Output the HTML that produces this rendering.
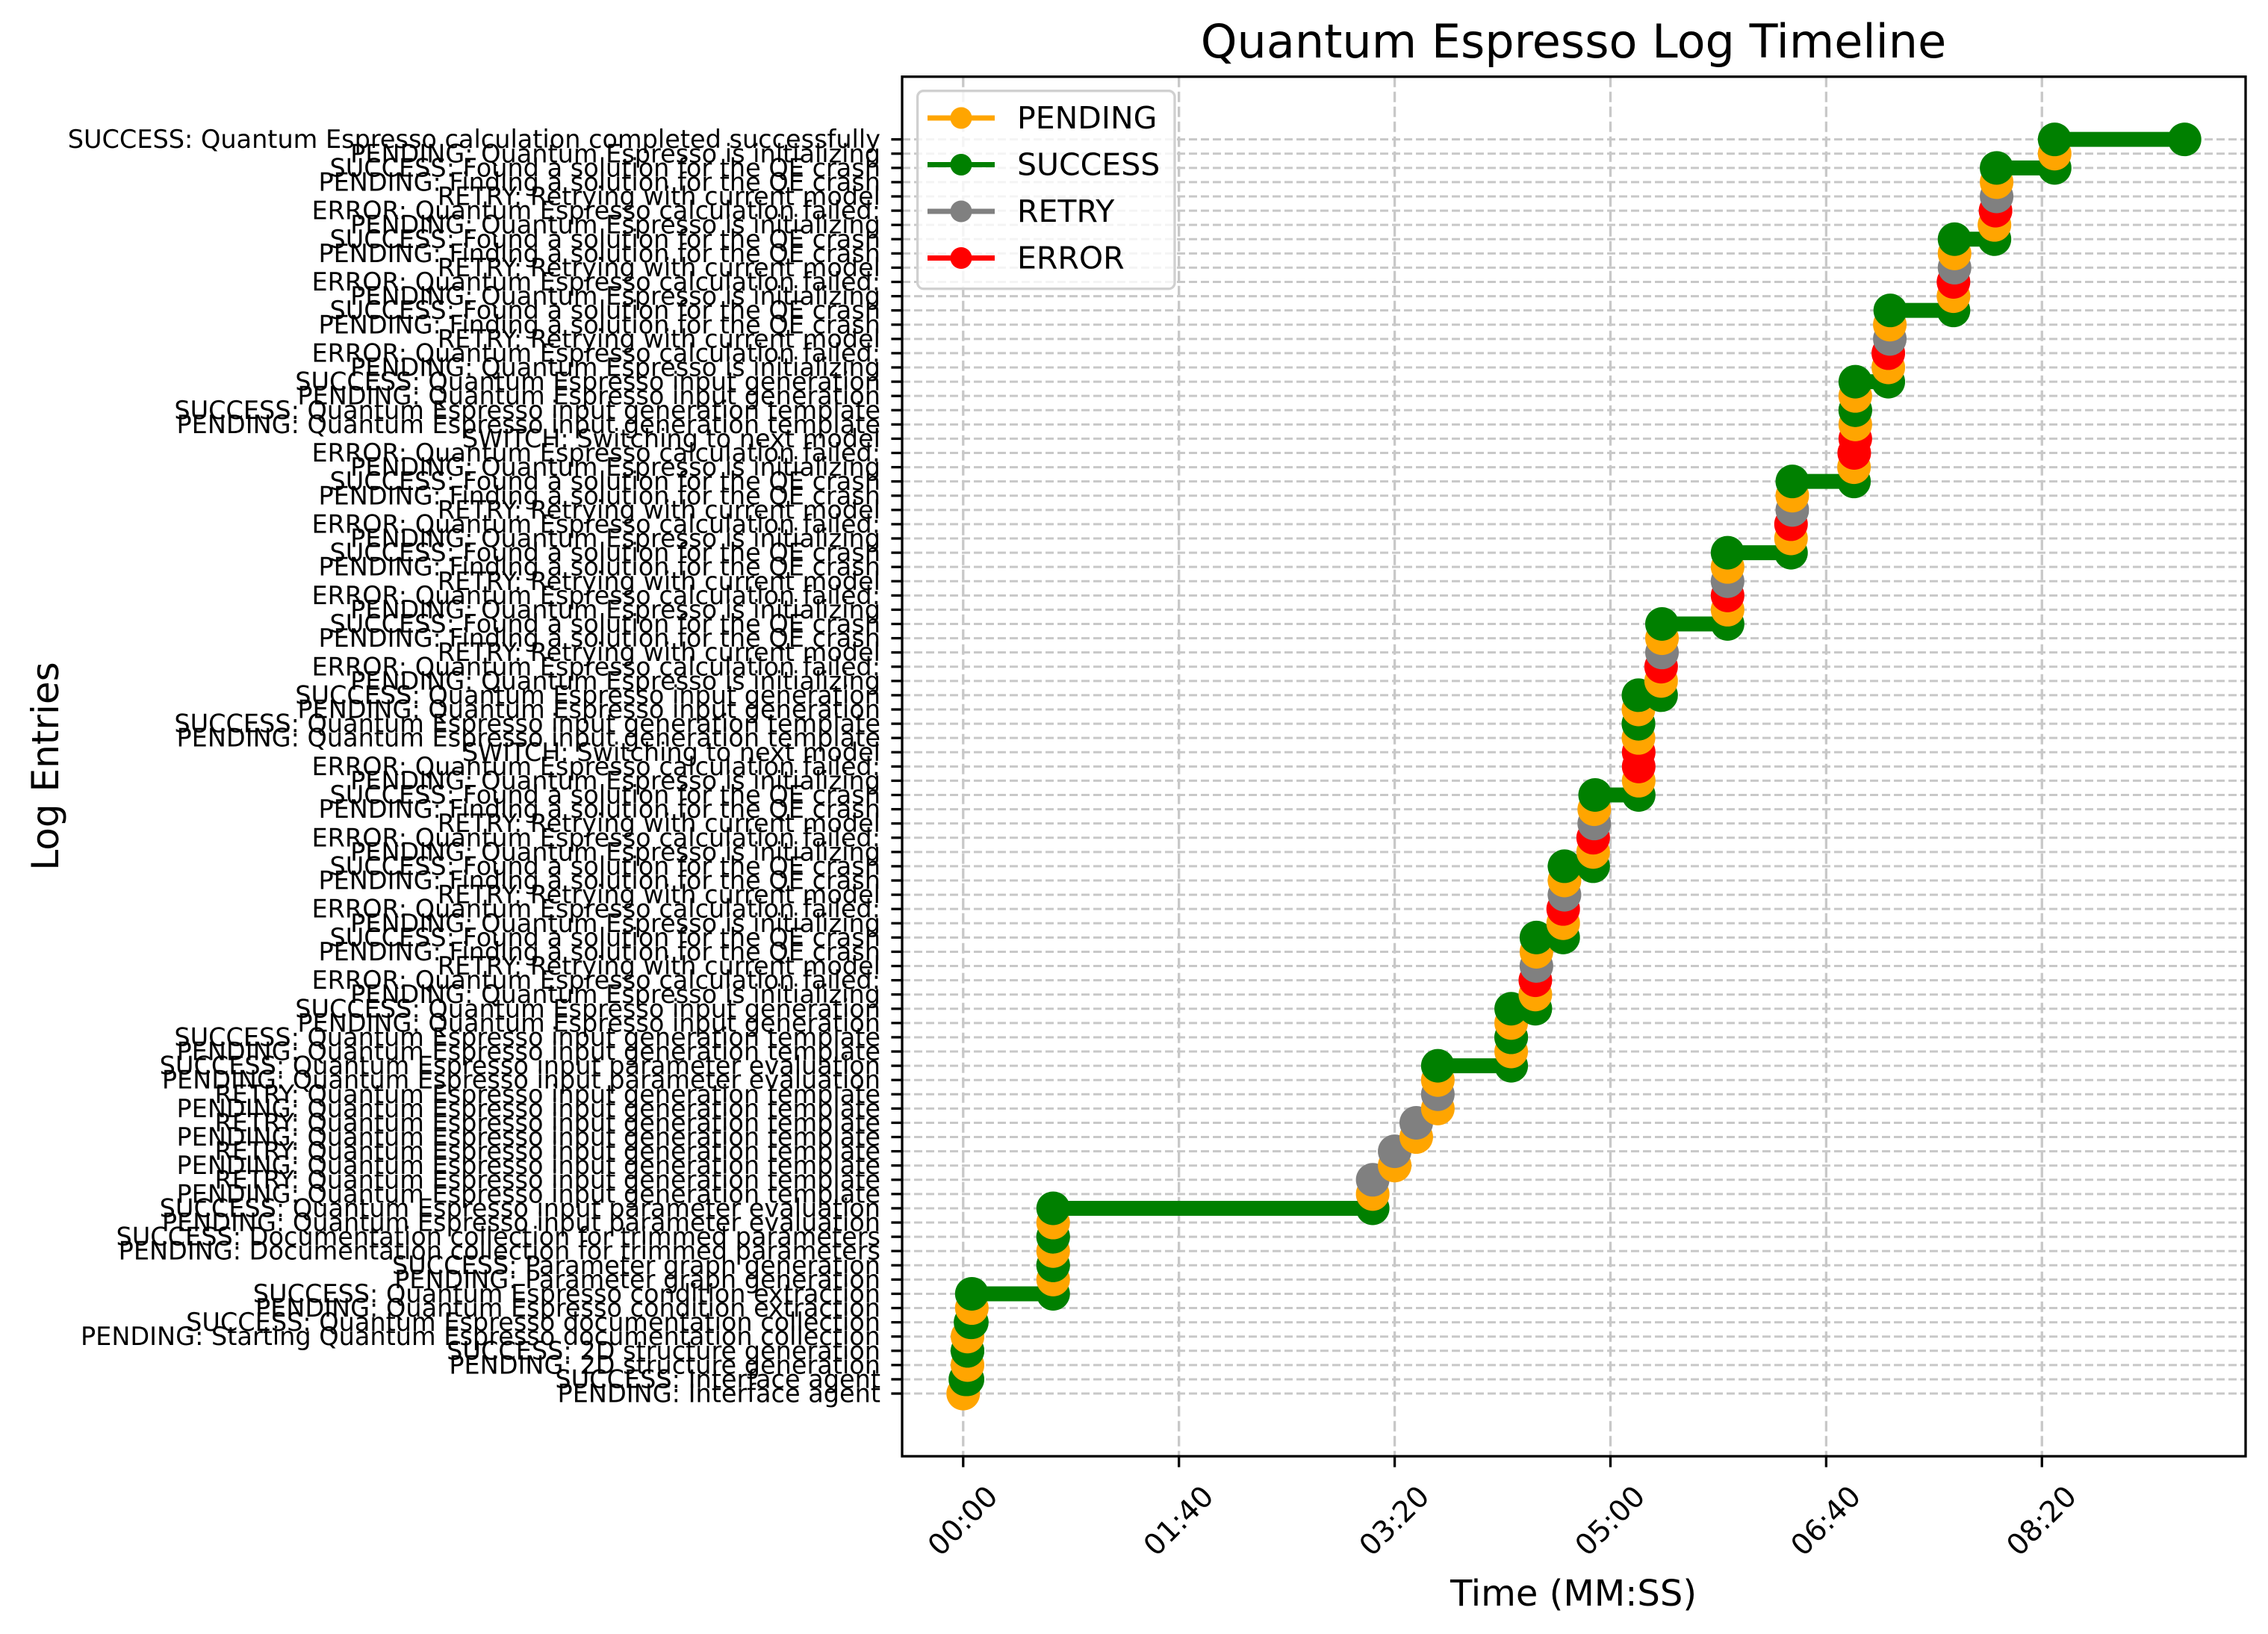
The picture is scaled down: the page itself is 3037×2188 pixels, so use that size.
<!DOCTYPE html>
<html><head><meta charset="utf-8"><title>Quantum Espresso Log Timeline</title>
<style>
html,body{margin:0;padding:0;background:#fff;}
svg{display:block;font-family:"DejaVu Sans","Liberation Sans",sans-serif;}
</style></head>
<body>
<svg id="chart" xmlns="http://www.w3.org/2000/svg" width="3037" height="2188" viewBox="0 0 3037 2188">
<rect x="0" y="0" width="3037" height="2188" fill="#fff"/>
<text x="2107" y="77" font-size="62" text-anchor="middle">Quantum Espresso Log Timeline</text>
<text x="2107" y="2150" font-size="48" text-anchor="middle">Time (MM:SS)</text>
<text transform="translate(78,1026) rotate(-90)" font-size="50" text-anchor="middle">Log Entries</text>
<g id="grid"></g>
<g id="yticks"></g>
<g id="xticks"></g>
<g id="marks"></g>
<rect x="1208" y="102.7" width="1799" height="1847.3" fill="none" stroke="#000" stroke-width="3.3"/>
<g id="legend"></g>
</svg>
<script>
const labels = [
"PENDING: Interface agent",
"SUCCESS: Interface agent",
"PENDING: 2D structure generation",
"SUCCESS: 2D structure generation",
"PENDING: Starting Quantum Espresso documentation collection",
"SUCCESS: Quantum Espresso documentation collection",
"PENDING: Quantum Espresso condition extraction",
"SUCCESS: Quantum Espresso condition extraction",
"PENDING: Parameter graph generation",
"SUCCESS: Parameter graph generation",
"PENDING: Documentation collection for trimmed parameters",
"SUCCESS: Documentation collection for trimmed parameters",
"PENDING: Quantum Espresso input parameter evaluation",
"SUCCESS: Quantum Espresso input parameter evaluation",
"PENDING: Quantum Espresso input generation template",
"RETRY: Quantum Espresso input generation template",
"PENDING: Quantum Espresso input generation template",
"RETRY: Quantum Espresso input generation template",
"PENDING: Quantum Espresso input generation template",
"RETRY: Quantum Espresso input generation template",
"PENDING: Quantum Espresso input generation template",
"RETRY: Quantum Espresso input generation template",
"PENDING: Quantum Espresso input parameter evaluation",
"SUCCESS: Quantum Espresso input parameter evaluation",
"PENDING: Quantum Espresso input generation template",
"SUCCESS: Quantum Espresso input generation template",
"PENDING: Quantum Espresso input generation",
"SUCCESS: Quantum Espresso input generation",
"PENDING: Quantum Espresso is initializing",
"ERROR: Quantum Espresso calculation failed:",
"RETRY: Retrying with current model",
"PENDING: Finding a solution for the QE crash",
"SUCCESS: Found a solution for the QE crash",
"PENDING: Quantum Espresso is initializing",
"ERROR: Quantum Espresso calculation failed:",
"RETRY: Retrying with current model",
"PENDING: Finding a solution for the QE crash",
"SUCCESS: Found a solution for the QE crash",
"PENDING: Quantum Espresso is initializing",
"ERROR: Quantum Espresso calculation failed:",
"RETRY: Retrying with current model",
"PENDING: Finding a solution for the QE crash",
"SUCCESS: Found a solution for the QE crash",
"PENDING: Quantum Espresso is initializing",
"ERROR: Quantum Espresso calculation failed:",
"SWITCH: Switching to next model",
"PENDING: Quantum Espresso input generation template",
"SUCCESS: Quantum Espresso input generation template",
"PENDING: Quantum Espresso input generation",
"SUCCESS: Quantum Espresso input generation",
"PENDING: Quantum Espresso is initializing",
"ERROR: Quantum Espresso calculation failed:",
"RETRY: Retrying with current model",
"PENDING: Finding a solution for the QE crash",
"SUCCESS: Found a solution for the QE crash",
"PENDING: Quantum Espresso is initializing",
"ERROR: Quantum Espresso calculation failed:",
"RETRY: Retrying with current model",
"PENDING: Finding a solution for the QE crash",
"SUCCESS: Found a solution for the QE crash",
"PENDING: Quantum Espresso is initializing",
"ERROR: Quantum Espresso calculation failed:",
"RETRY: Retrying with current model",
"PENDING: Finding a solution for the QE crash",
"SUCCESS: Found a solution for the QE crash",
"PENDING: Quantum Espresso is initializing",
"ERROR: Quantum Espresso calculation failed:",
"SWITCH: Switching to next model",
"PENDING: Quantum Espresso input generation template",
"SUCCESS: Quantum Espresso input generation template",
"PENDING: Quantum Espresso input generation",
"SUCCESS: Quantum Espresso input generation",
"PENDING: Quantum Espresso is initializing",
"ERROR: Quantum Espresso calculation failed:",
"RETRY: Retrying with current model",
"PENDING: Finding a solution for the QE crash",
"SUCCESS: Found a solution for the QE crash",
"PENDING: Quantum Espresso is initializing",
"ERROR: Quantum Espresso calculation failed:",
"RETRY: Retrying with current model",
"PENDING: Finding a solution for the QE crash",
"SUCCESS: Found a solution for the QE crash",
"PENDING: Quantum Espresso is initializing",
"ERROR: Quantum Espresso calculation failed:",
"RETRY: Retrying with current model",
"PENDING: Finding a solution for the QE crash",
"SUCCESS: Found a solution for the QE crash",
"PENDING: Quantum Espresso is initializing",
"SUCCESS: Quantum Espresso calculation completed successfully"
];
// seconds since start for each entry
const times = [0,1,2,2,2,3.4,4,4,41.7,41.7,41.7,41.7,41.7,41.7,189.8,189.8,200,200,210,210,220,220,220,220,254,254,254,254,265.2,265.2,265.7,265.7,265.7,278.1,278.1,278.7,278.7,278.7,292,292,292.5,292.5,292.9,313.1,313.1,313.1,313,313,313,313,323.5,323.5,323.9,323.9,323.9,354.3,354.3,354.3,354.3,354.3,383.7,383.7,384.3,384.3,384.3,412.9,413,413.5,413.5,413.5,413.5,413.5,428.8,428.8,429.5,429.5,429.7,459,459,459.5,459.5,459.5,478,478.5,479,479,479,505.9,505.9];
const endTime = [566.1];
const xTickValues = [0,100,200,300,400,500];
const xTickLabels = ["00:00","01:40","03:20","05:00","06:40","08:20"];
const legendNames = ["PENDING","SUCCESS","RETRY","ERROR"];

const NS = "http://www.w3.org/2000/svg";
const PL = 1208, PR = 3007, PT = 102.7, PB = 1950;
const colorMap = {PENDING:"#FFA500", SUCCESS:"#008000", RETRY:"#808080", ERROR:"#FF0000", SWITCH:"#FF0000"};
const allT = times.concat(endTime);
const tMin = Math.min(...allT), tMax = Math.max(...allT);
const tPad = (tMax - tMin) * 0.05;
const x0 = tMin - tPad, x1 = tMax + tPad;
const yPad = (labels.length - 1) * 0.05;
const y0 = -yPad, y1 = labels.length - 1 + yPad;
function xs(t){ return PL + (t - x0) / (x1 - x0) * (PR - PL); }
function ys(i){ return PB - (i - y0) / (y1 - y0) * (PB - PT); }
function mk(tag, attrs, parent){
  const e = document.createElementNS(NS, tag);
  for (const k in attrs) e.setAttribute(k, attrs[k]);
  parent.appendChild(e);
  return e;
}
const grid = document.getElementById('grid');
const yt = document.getElementById('yticks');
const xt = document.getElementById('xticks');
const marks = document.getElementById('marks');
const leg = document.getElementById('legend');

labels.forEach((lab, i) => {
  const y = ys(i);
  const g = mk('line', {x1:PL, x2:PR, y1:y, y2:y, stroke:'#c8c8c8', 'stroke-width':3, 'stroke-dasharray':'11 5'}, grid);
  
  
  const tk = mk('line', {x1:PL-14.6, x2:PL, y1:y, y2:y, stroke:'#000', 'stroke-width':3.3}, yt);
  
  
  const tx = mk('text', {x:PL-29, y:y, 'font-size':33.5, 'text-anchor':'end', 'dominant-baseline':'central'}, yt);
  tx.textContent = lab;
  
  
});
xTickValues.forEach((v, k) => {
  const x = xs(v);
  const g = mk('line', {x1:x, x2:x, y1:PT, y2:PB, stroke:'#c8c8c8', 'stroke-width':3.3, 'stroke-dasharray':'14 6'}, grid);
  
  
  const tk = mk('line', {x1:x, x2:x, y1:PB, y2:PB+14.6, stroke:'#000', 'stroke-width':3.3}, xt);
  
  
  const tx = mk('text', {x:0, y:0, 'font-size':39, 'text-anchor':'middle', 'dominant-baseline':'central', transform:'translate(' + x + ',2037) rotate(-45)'}, xt);
  tx.textContent = xTickLabels[k];
  
  
});
labels.forEach((lab, i) => {
  const st = lab.split(':')[0];
  const c = colorMap[st] || '#FF0000';
  const y = ys(i);
  const xa = xs(times[i]);
  if (st === 'SUCCESS') {
    const tEnd = i + 1 < times.length ? times[i+1] : endTime[0];
    const xb = xs(tEnd);
    const ln = mk('line', {x1:xa, x2:xb, y1:y, y2:y, stroke:c, 'stroke-width':20}, marks);
    
    
    const m2 = mk('circle', {cx:xb, cy:y, r:22.5, fill:c}, marks);
    
    
  }
  const m = mk('circle', {cx:xa, cy:y, r:22.5, fill:c}, marks);
  
  
});
const box = mk('rect', {x:1228.6, y:121.7, width:344.4, height:265, rx:8, fill:'#fff', 'fill-opacity':0.8, stroke:'#d0d0d0', 'stroke-width':3.3}, leg);


const legY = [158, 220.5, 283, 345.5];
legendNames.forEach((n, k) => {
  const y = legY[k];
  const c = colorMap[n];
  const g = mk('g', {}, leg);
  
  
  mk('line', {x1:1242, x2:1332, y1:y, y2:y, stroke:c, 'stroke-width':7}, g);
  mk('circle', {cx:1287, cy:y, r:14.5, fill:c}, g);
  const t = mk('text', {x:1362, y:y, 'font-size':41, 'dominant-baseline':'central'}, g);
  t.textContent = n;
});
</script>
</body></html>
